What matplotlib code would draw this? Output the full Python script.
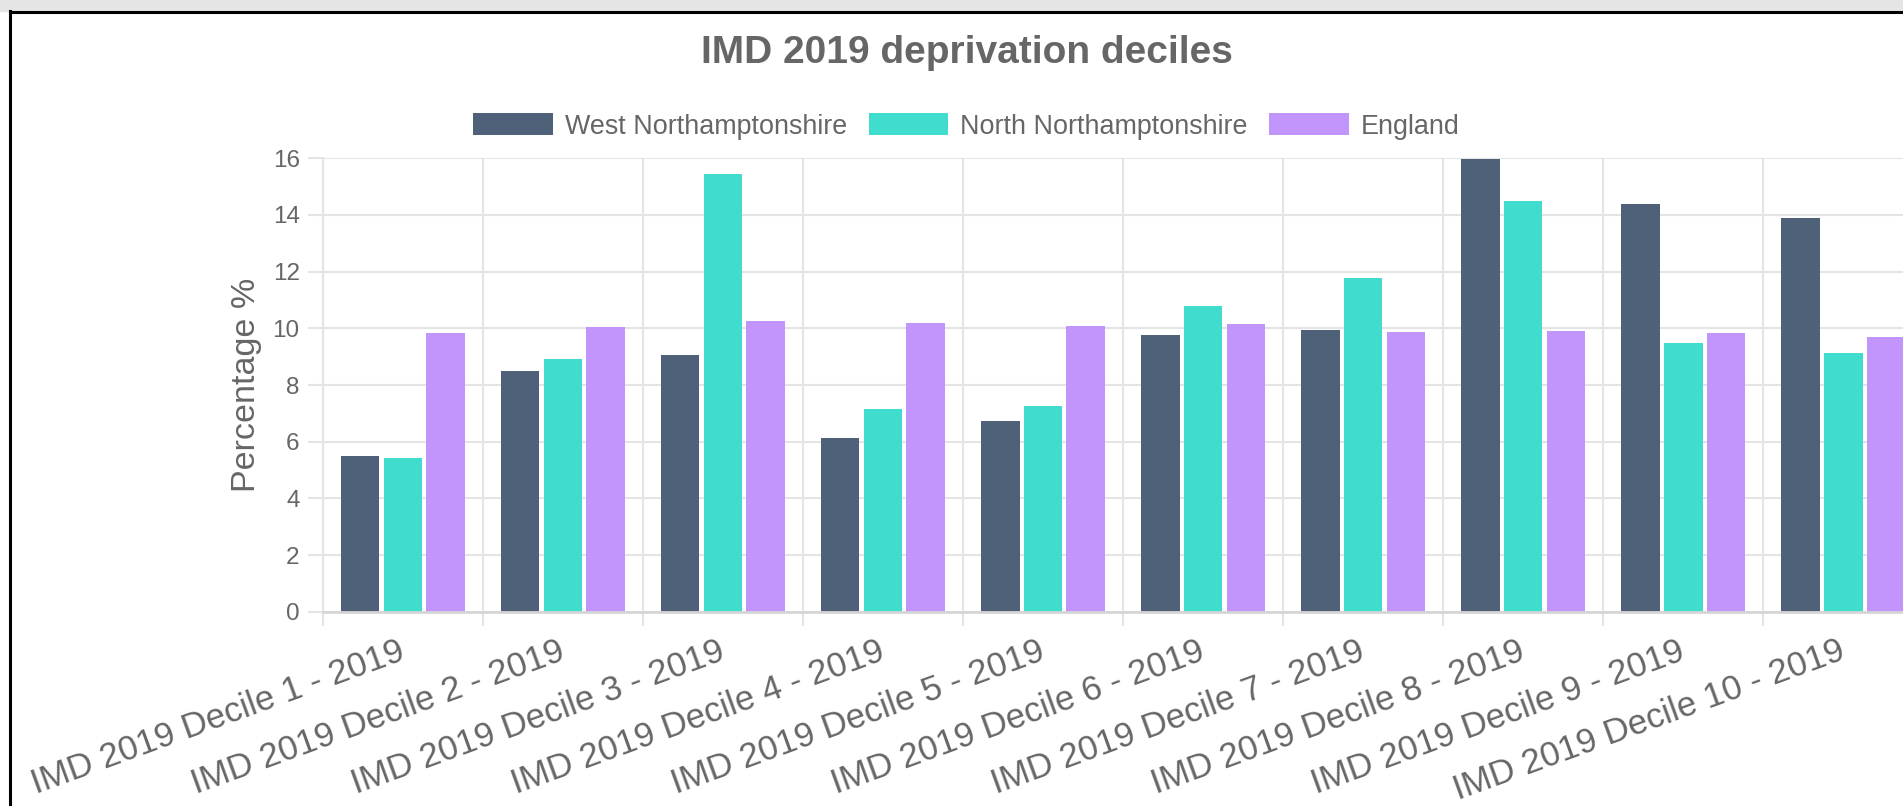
import matplotlib.pyplot as plt
from matplotlib.lines import Line2D
from matplotlib.patches import Rectangle
import numpy as np

plt.rcParams['font.family'] = ['Liberation Sans', 'DejaVu Sans']

# Data
deciles = ["IMD 2019 Decile %d - 2019" % i for i in range(1, 11)]
west = [5.49, 8.50, 9.05, 6.13, 6.74, 9.78, 9.93, 15.97, 14.39, 13.90]
north = [5.42, 8.92, 15.44, 7.16, 7.26, 10.80, 11.79, 14.49, 9.48, 9.14]
england = [9.85, 10.06, 10.26, 10.18, 10.09, 10.14, 9.86, 9.90, 9.82, 9.69]
series_names = ["West Northamptonshire", "North Northamptonshire", "England"]
colors = ["#4f6079", "#40ddcf", "#c195fb"]

W, H = 1903, 806
fig = plt.figure(figsize=(W / 100, H / 100), dpi=100)
# the canvas is cropped on the right, so the axes run past the figure edge
ax = fig.add_axes([322.7 / W, 1 - 611.7 / H, 1600.7 / W, 453.4 / H])

grid_c = '#e4e4e4'
text_c = '#666666'

x = np.arange(len(deciles))
slot = 0.8 / 3
bw = slot * 0.9
for i, (vals, name, c) in enumerate(zip([west, north, england], series_names, colors)):
    ax.bar(x + (i - 1) * slot, vals, width=bw, color=c, label=name, linewidth=0)

ax.set_xlim(-0.5, len(deciles) - 0.5)
ax.set_ylim(0, 16)
ax.set_yticks(np.arange(0, 17, 2))
ax.set_xticks(x)
ax.set_xticks(np.arange(-0.5, len(deciles), 1), minor=True)
ax.set_xticklabels(deciles, rotation=20, ha='right', va='center',
                   rotation_mode='anchor', fontsize=25, color=text_c)

ax.set_axisbelow(True)
ax.grid(axis='y', color=grid_c, linewidth=1.5)
ax.grid(axis='x', which='minor', color=grid_c, linewidth=1.5)
ax.tick_params(axis='x', which='major', length=0, pad=27.5)
ax.tick_params(axis='x', which='minor', length=10, width=1.5, color=grid_c)
ax.tick_params(axis='y', length=10.8, width=1.5, color=grid_c, labelcolor=text_c,
               labelsize=17.5, pad=5.8)

for s in ['top', 'right']:
    ax.spines[s].set_visible(False)
ax.spines['left'].set_color(grid_c)
ax.spines['left'].set_linewidth(1.5)
ax.spines['bottom'].set_color('#d6d6d6')
ax.spines['bottom'].set_linewidth(2)

ax.set_ylabel("Percentage %", fontsize=24.5, color=text_c)
ax.yaxis.set_label_coords((261.7 - 322.7) / 1600.7, 0.5)

fig.text(966.7 / W, 1 - 63.3 / H, "IMD 2019 deprivation deciles", ha='center',
         va='baseline', fontsize=28, fontweight='bold', color=text_c)

fig.legend(loc='center', bbox_to_anchor=(966.7 / W, 1 - 126.3 / H), ncol=3,
           frameon=False, fontsize=19.4, labelcolor=text_c, handlelength=2.95,
           handleheight=0.9, handletextpad=0.45, columnspacing=0.8)

# page frame around the embedded chart
fig.patches.append(Rectangle((0, 1 - 11 / H), 1, 11 / H, transform=fig.transFigure,
                             color='#e5e5e5', zorder=0))
fig.lines.append(Line2D([9.5 / W, 1], [1 - 12 / H, 1 - 12 / H], transform=fig.transFigure,
                        color='black', linewidth=2.2))
fig.lines.append(Line2D([9.5 / W, 9.5 / W], [0, 1 - 11 / H], transform=fig.transFigure,
                        color='black', linewidth=2.2))

plt.savefig('out.png', dpi=100)
